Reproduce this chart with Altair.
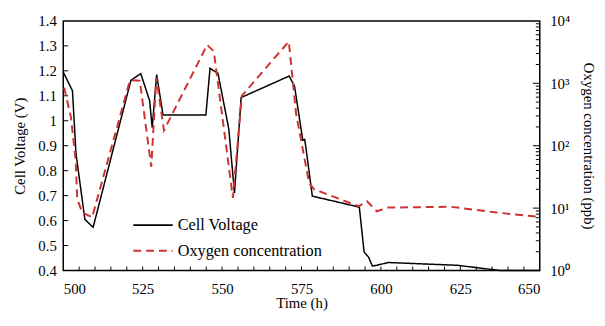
import altair as alt
import pandas as pd

# ---- data ----
volt_t = [500, 502.9, 504.0, 506.8, 509.4, 521.3, 524.4, 527.2, 528.0, 529.4, 531.4,
          544.9, 546.2, 548.7, 552.1, 553.9, 556.0, 571.1, 572.8, 575.4, 576.0, 576.3,
          578.4, 593.2, 594.7, 596.1, 597.3, 598.7, 602.3, 624.0, 637.5, 650]
volt_v = [1.195, 1.12, 0.87, 0.605, 0.573, 1.162, 1.189, 1.08, 0.972, 1.185, 1.023,
          1.023, 1.21, 1.19, 0.968, 0.711, 1.093, 1.179, 1.139, 0.922, 0.925, 0.90,
          0.698, 0.654, 0.474, 0.454, 0.418, 0.421, 0.432, 0.421, 0.40, 0.40]

oxy_t = [500.3, 502.4, 503.9, 504.4, 506.0, 509.1, 521.0, 524.1, 527.7, 529.3, 531.7,
         545.3, 547.4, 553.4, 556.2, 571.0, 573.3, 577.4, 579.0, 593.0, 595.6, 598.7,
         602.3, 622.0, 636.4, 650]
oxy_c = [850, 290, 59, 14, 8.5, 7.1, 1120, 1100, 46, 1230, 176,
         4130, 3240, 14.6, 630, 4680, 324, 25, 20, 10.7, 12.9, 8.9,
         10.2, 10.5, 8.5, 7.2]

series_names = ["Cell Voltage", "Oxygen concentration"]
x_ticks_minor = [505, 510, 515, 520, 525, 530, 535, 540, 545, 550, 555, 560, 565, 570,
                 575, 580, 585, 590, 595, 600, 605, 610, 615, 620, 625, 630, 635, 640, 645]
x_labels = [500, 525, 550, 575, 600, 625, 650]
v_ticks = [0.5, 0.6, 0.7, 0.8, 0.9, 1.0, 1.1, 1.2, 1.3]
v_labels = [0.4, 0.5, 0.6, 0.7, 0.8, 0.9, 1.0, 1.1, 1.2, 1.3, 1.4]
log_major = [10, 100, 1000]
log_minor = [2, 3, 4, 5, 6, 7, 8, 9, 20, 30, 40, 50, 60, 70, 80, 90,
             200, 300, 400, 500, 600, 700, 800, 900, 2000, 3000, 4000, 5000, 6000, 7000, 8000, 9000]
log_labels = [1, 10, 100, 1000, 10000]

W, H = 483, 253
FONT = "Liberation Serif"

volt_df = pd.DataFrame({"t": volt_t, "v": volt_v, "series": series_names[0]})
oxy_df = pd.DataFrame({"t": oxy_t, "c": oxy_c, "series": series_names[1]})

xscale = alt.Scale(domain=[500, 650], nice=False, zero=False)
vscale = alt.Scale(domain=[0.4, 1.4], nice=False, zero=False)
cscale = alt.Scale(type="log", domain=[1, 10000], nice=False)

font_kw = dict(labelFont=FONT, labelFontSize=15, labelColor="black",
               titleFont=FONT, titleFontSize=15, titleFontWeight="normal", titleColor="black")

x_axis = alt.Axis(values=x_labels, ticks=False, domain=False, grid=False,
                  labelPadding=11, titlePadding=0, **font_kw)
v_axis = alt.Axis(orient="left", values=v_labels, format=".1~f", ticks=False,
                  domain=False, grid=False, labelPadding=7, titlePadding=11, **font_kw)
c_axis = alt.Axis(orient="right", values=log_labels, ticks=False, domain=False,
                  grid=False, labelPadding=10, titlePadding=11,
                  labelExpr="datum.value == 1 ? '10⁰' : datum.value == 10 ? '10¹' : "
                            "datum.value == 100 ? '10²' : datum.value == 1000 ? '10³' : '10⁴'",
                  **font_kw)

xdef = alt.X("t:Q", scale=xscale, title="Time (h)", axis=x_axis)
vdef = alt.Y("v:Q", scale=vscale, title="Cell Voltage (V)", axis=v_axis)
cdef = alt.Y("c:Q", scale=cscale, title="Oxygen concentration (ppb)", axis=c_axis)

legend = alt.Legend(
    title=None, orient="none", legendX=80, legendY=196, direction="vertical",
    symbolType="M-2,0L2,0", symbolSize=400, symbolStrokeWidth=2,
    labelFont=FONT, labelFontSize=16.5, labelColor="black", labelOffset=14,
    rowPadding=6, padding=0,
)
color = alt.Color("series:N", scale=alt.Scale(domain=series_names, range=["black", "#cc3333"]),
                  legend=legend)
dash = alt.StrokeDash("series:N", scale=alt.Scale(domain=series_names, range=[[1, 0], [8, 5]]),
                      legend=legend)

volt_line = alt.Chart(volt_df).mark_line(strokeWidth=1.5).encode(
    x=xdef, y=vdef, color=color, strokeDash=dash,
)
left_ticks = alt.Chart(pd.DataFrame({"v": v_ticks})).mark_rule(color="black", strokeWidth=1).encode(
    x=alt.value(0), x2=alt.value(5), y=vdef,
)
bottom_ticks = alt.Chart(pd.DataFrame({"t": x_ticks_minor})).mark_rule(color="black", strokeWidth=1).encode(
    x=xdef, y=alt.value(H), y2=alt.value(H - 4),
)

oxy_line = alt.Chart(oxy_df).mark_line(strokeWidth=2).encode(
    x=xdef, y=cdef, color=color, strokeDash=dash,
)
right_minor = alt.Chart(pd.DataFrame({"c": log_minor})).mark_rule(color="black", strokeWidth=1).encode(
    x=alt.value(W), x2=alt.value(W - 4), y=cdef,
)
right_major = alt.Chart(pd.DataFrame({"c": log_major})).mark_rule(color="black", strokeWidth=1).encode(
    x=alt.value(W), x2=alt.value(W - 7), y=cdef,
)

left = alt.layer(volt_line, left_ticks, bottom_ticks)
right = alt.layer(oxy_line, right_minor, right_major)

chart = alt.layer(left, right).resolve_scale(y="independent").properties(
    width=W, height=H,
    autosize=alt.AutoSizeParams(type="none"),
    padding={"left": 56, "top": 11, "right": 58, "bottom": 42},
    background="white",
).configure_view(
    stroke="black", strokeWidth=1.5
).configure_axis(
    labelFont=FONT, titleFont=FONT,
).configure_legend(
    labelFont=FONT
)

chart.save("out.html", embed_options={"renderer": "svg", "actions": False})
